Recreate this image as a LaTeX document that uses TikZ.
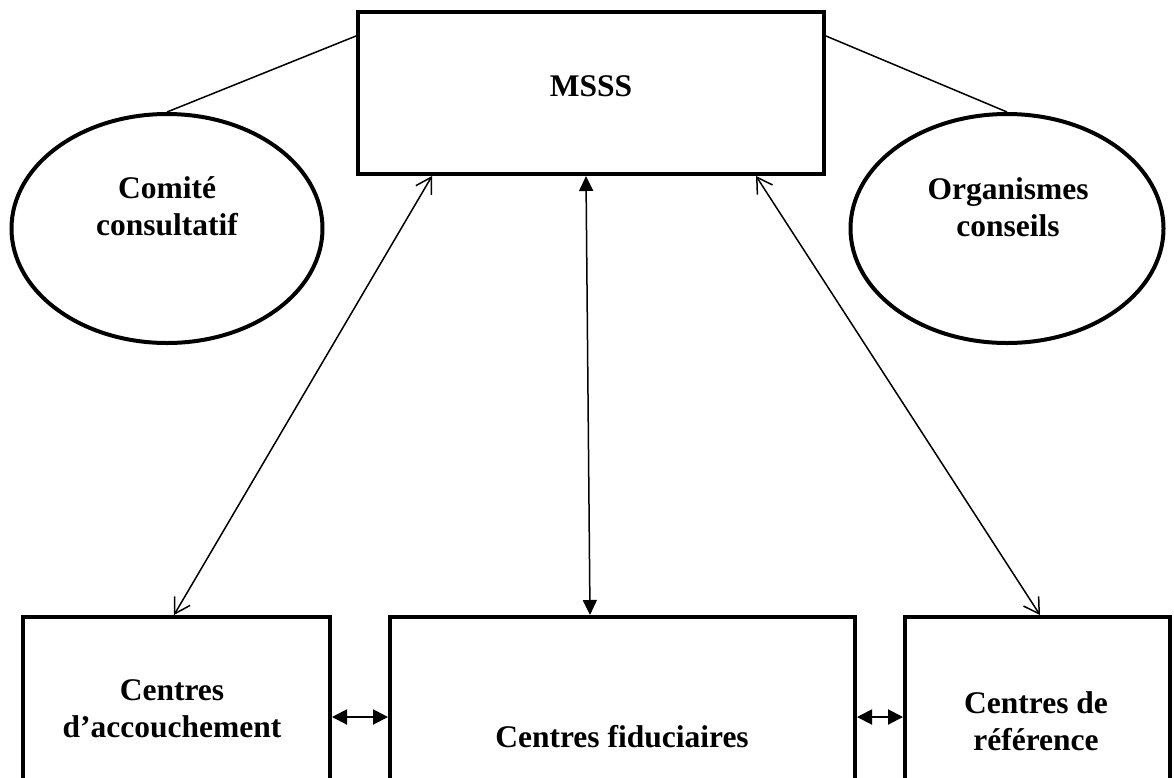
\documentclass[tikz,border=0pt]{standalone}
\usepackage{fontspec}
\setmainfont{Liberation Serif}
\usetikzlibrary{shapes.geometric,arrows.meta}
\begin{document}
\begin{tikzpicture}[x=1pt,y=-1pt,
  box/.style={draw,line width=4pt,rectangle,inner sep=0pt},
  oval/.style={draw,line width=4pt,ellipse,inner sep=0pt},
  lbl/.style={font=\bfseries\fontsize{31.5}{37}\selectfont,align=center,inner sep=0pt,anchor=base},
  link/.style={line width=1.5pt},
  barb/.style={line width=1.5pt,{Straight Barb[length=15pt,width=18pt]}-{Straight Barb[length=15pt,width=18pt]}},
  tri/.style={line width=1.5pt,{Triangle[length=15pt,width=14pt]}-{Triangle[length=15pt,width=14pt]}},
  side/.style={line width=2pt,{Triangle[length=15pt,width=15pt]}-{Triangle[length=15pt,width=15pt]}}]

\clip (0,0) rectangle (1174,777);
\fill[white] (0,0) rectangle (1174,777);

% boxes
\node[box,minimum width=466pt,minimum height=162pt] (msss) at (591,93) {};
\node[box,minimum width=307pt,minimum height=283pt] (lbox) at (176.5,758.5) {};
\node[box,minimum width=465pt,minimum height=283pt] (cbox) at (622.5,758.5) {};
\node[box,minimum width=265pt,minimum height=283pt] (rbox) at (1037.5,758.5) {};

% ellipses
\node[oval,minimum width=311pt,minimum height=229pt] (lell) at (167,228.5) {};
\node[oval,minimum width=313pt,minimum height=229pt] (rell) at (1007,228.5) {};

% labels
\node[lbl] (tmsss) at (591,96) {MSSS};
\node[lbl] (tlell) at (167,235) {Comité\\consultatif};
\node[lbl] (trell) at (1008,236) {Organismes\\conseils};
\node[lbl] (tlbox) at (172,737) {Centres\\d’accouchement};
\node[lbl] (tcbox) at (622,747) {Centres fiduciaires};
\node[lbl] (trbox) at (1036,750) {Centres de\\référence};

% links to ellipses
\draw[link] ([yshift=-26pt]msss.north west) -- (lell.north);
\draw[link] ([yshift=-26pt]msss.north east) -- (rell.north);

% vertical / diagonal arrows
\draw[barb] ([xshift=76pt]msss.south west) -- ([xshift=153pt]lbox.north west);
\draw[tri] ([xshift=230pt]msss.south west) -- ([xshift=202pt]cbox.north west);
\draw[barb] ([xshift=400pt]msss.south west) -- ([xshift=137pt]rbox.north west);

% side arrows
\coordinate (rowA) at (0,717);
\draw[side] (lbox.east |- rowA) -- (cbox.west |- rowA);
\draw[side] (cbox.east |- rowA) -- (rbox.west |- rowA);
\end{tikzpicture}
\end{document}
